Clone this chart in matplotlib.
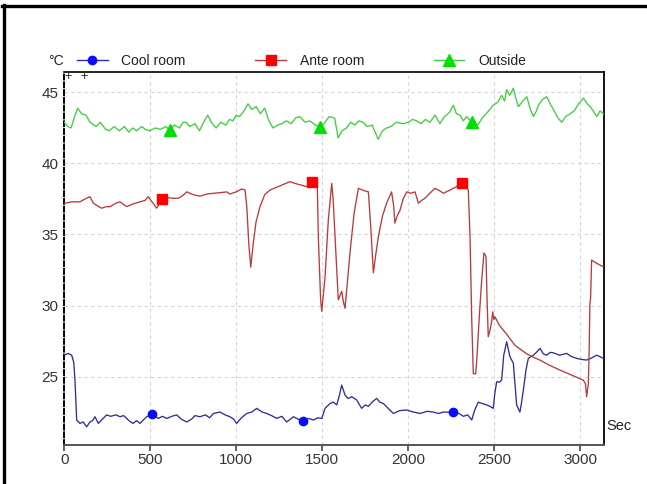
import numpy as np
import matplotlib
matplotlib.use("Agg")
import matplotlib.pyplot as plt
from matplotlib.lines import Line2D

# ---------------- data ----------------
cool_x = [0, 23, 43, 55, 62, 68, 72, 91, 110, 130, 149, 165, 178, 198, 222, 246, 270, 300, 324, 345,
          363, 380, 401, 420, 440, 460, 479, 511, 530, 547, 570, 596, 625, 654, 680, 712, 740, 760, 789, 820,
          845, 867, 906, 935, 963, 985, 1002, 1030, 1061, 1090, 1119, 1150, 1177, 1205, 1235, 1265, 1293, 1315, 1332, 1360,
          1386, 1420, 1448, 1475, 1497, 1516, 1545, 1564, 1584, 1600, 1613, 1632, 1650, 1671, 1700, 1729, 1750, 1768, 1790, 1816,
          1835, 1855, 1880, 1913, 1950, 1991, 2030, 2068, 2110, 2146, 2175, 2204, 2260, 2295, 2320, 2345, 2369, 2385, 2407, 2430,
          2456, 2475, 2494, 2503, 2514, 2530, 2543, 2555, 2572, 2580, 2591, 2611, 2620, 2630, 2649, 2659, 2669, 2685, 2698, 2727,
          2745, 2766, 2785, 2805, 2825, 2843, 2880, 2921, 2950, 2979, 3010, 3037, 3065, 3095, 3115, 3134]
cool_y = [26.5, 26.63, 26.5, 26.0, 24.75, 23.0, 21.94, 21.7, 21.8, 21.46, 21.8, 21.9, 22.17, 21.7, 22.0, 22.3, 22.2, 22.3, 22.17, 22.25,
          22.05, 21.85, 21.7, 21.9, 21.7, 21.95, 22.17, 22.36, 22.2, 22.05, 22.2, 22.05, 22.2, 22.3, 22.0, 21.8, 22.0, 22.25, 22.17, 22.3,
          22.1, 22.4, 22.5, 22.3, 22.17, 22.0, 21.7, 22.1, 22.4, 22.5, 22.76, 22.5, 22.4, 22.25, 22.05, 22.2, 21.8, 22.0, 22.17, 22.0,
          21.86, 22.05, 21.94, 22.1, 22.05, 22.76, 23.1, 23.2, 23.0, 23.7, 24.4, 23.7, 23.45, 23.58, 23.35, 22.76, 23.0, 22.9, 23.2, 23.46,
          23.2, 23.1, 22.8, 22.4, 22.6, 22.64, 22.5, 22.4, 22.55, 22.5, 22.4, 22.5, 22.48, 22.4, 22.2, 22.3, 21.94, 22.6, 23.2, 23.1,
          23.0, 22.9, 22.76, 23.8, 24.63, 24.6, 24.75, 26.5, 27.45, 27.0, 26.4, 25.93, 24.5, 23.0, 22.5, 23.2, 24.05, 25.5, 26.28, 26.5,
          26.7, 26.98, 26.6, 26.5, 26.7, 26.67, 26.5, 26.63, 26.4, 26.28, 26.2, 26.16, 26.3, 26.5, 26.4, 26.28]

ante_x = [0, 45, 91, 120, 149, 169, 195, 217, 240, 266, 300, 324, 345, 363, 400, 440, 470, 488, 510, 537,
          569, 600, 630, 663, 690, 712, 750, 789, 830, 867, 910, 944, 963, 1000, 1031, 1051, 1061, 1072, 1084, 1099,
          1115, 1138, 1165, 1196, 1250, 1312, 1340, 1370, 1409, 1442, 1471, 1477, 1490, 1497, 1505, 1516, 1535, 1555, 1563, 1574,
          1593, 1613, 1622, 1632, 1645, 1661, 1685, 1710, 1740, 1768, 1782, 1797, 1810, 1826, 1850, 1874, 1903, 1915, 1922, 1935,
          1952, 1970, 1991, 2015, 2039, 2059, 2078, 2097, 2125, 2155, 2180, 2204, 2243, 2281, 2312, 2340, 2349, 2359, 2369, 2378,
          2392, 2400, 2407, 2417, 2427, 2440, 2452, 2458, 2465, 2475, 2484, 2491, 2498, 2504, 2530, 2571, 2620, 2688, 2720, 2765,
          2820, 2881, 2950, 3017, 3030, 3037, 3047, 3052, 3056, 3060, 3066, 3095, 3134]
ante_y = [37.2, 37.3, 37.3, 37.5, 37.66, 37.2, 37.0, 36.85, 36.95, 36.96, 37.2, 37.3, 37.1, 36.96, 37.15, 37.3, 37.4, 37.66, 37.3, 36.85,
          37.5, 37.6, 37.55, 37.55, 37.75, 38.0, 37.8, 37.7, 37.85, 37.9, 37.95, 38.0, 37.85, 38.0, 38.2, 38.13, 36.96, 34.5, 32.7, 34.4,
          35.9, 36.96, 37.8, 38.13, 38.4, 38.72, 38.6, 38.5, 38.37, 38.68, 38.5, 34.85, 30.5, 29.6, 30.6, 32.0, 36.0, 38.6, 37.5, 34.85,
          30.4, 31.0, 30.3, 29.8, 31.5, 33.7, 36.5, 38.25, 38.1, 38.0, 35.5, 32.3, 33.5, 34.85, 36.3, 37.2, 38.0, 37.0, 35.8, 36.3,
          36.7, 37.5, 38.0, 37.9, 38.0, 37.2, 37.4, 37.55, 37.9, 38.25, 38.1, 37.9, 38.13, 38.37, 38.6, 38.3, 38.13, 34.85, 29.0, 25.2,
          25.2, 26.5, 28.0, 30.0, 31.8, 33.7, 33.45, 30.5, 27.8, 28.27, 28.8, 29.55, 29.0, 29.2, 28.6, 28.0, 27.2, 26.6, 26.4, 26.16,
          25.8, 25.46, 25.1, 24.75, 24.5, 23.58, 24.5, 27.0, 30.15, 30.5, 33.2, 32.97, 32.73]

out_x = [0, 20, 39, 60, 78, 100, 126, 150, 185, 210, 240, 262, 290, 320, 350, 375, 397, 420, 450, 470,
         495, 530, 560, 590, 612, 640, 670, 690, 709, 730, 760, 786, 810, 834, 860, 883, 910, 940, 960, 980,
         1000, 1019, 1045, 1068, 1090, 1116, 1140, 1165, 1190, 1213, 1240, 1265, 1291, 1320, 1345, 1369, 1400, 1427, 1460, 1487,
         1510, 1540, 1572, 1592, 1615, 1641, 1665, 1690, 1712, 1738, 1760, 1790, 1825, 1850, 1874, 1900, 1930, 1971, 2000, 2025,
         2048, 2075, 2100, 2126, 2155, 2184, 2210, 2240, 2262, 2280, 2300, 2320, 2340, 2369, 2398, 2430, 2460, 2494, 2520, 2543,
         2560, 2572, 2590, 2611, 2625, 2640, 2660, 2689, 2710, 2728, 2745, 2757, 2780, 2805, 2825, 2844, 2870, 2893, 2915, 2941,
         2965, 2990, 3019, 3040, 3058, 3080, 3097, 3115, 3135]
out_y = [42.9, 42.6, 42.5, 43.3, 43.9, 43.5, 43.4, 42.9, 42.6, 42.9, 42.4, 42.3, 42.6, 42.3, 42.6, 42.2, 42.5, 42.3, 42.6, 42.4,
         42.3, 42.5, 42.4, 42.6, 42.35, 42.7, 42.5, 42.9, 42.9, 42.6, 42.8, 42.3, 42.9, 43.4, 42.8, 42.5, 42.9, 42.7, 43.1, 43.0,
         43.4, 43.3, 43.7, 44.2, 43.8, 44.0, 43.5, 43.9, 43.0, 42.5, 42.7, 42.8, 43.0, 42.8, 43.2, 43.3, 42.9, 43.0, 42.7, 42.6,
         42.8, 43.3, 43.2, 41.8, 42.3, 42.5, 42.9, 42.7, 43.0, 42.9, 42.6, 42.7, 41.7, 42.3, 42.5, 42.6, 42.9, 42.8, 42.9, 43.1,
         43.0, 42.8, 43.1, 42.9, 43.4, 42.8, 43.3, 43.6, 44.1, 43.5, 43.4, 43.0, 43.3, 42.9, 42.6, 43.2, 43.6, 44.1, 44.3, 44.8,
         44.4, 45.2, 44.8, 45.3, 44.6, 44.0, 44.3, 44.7, 43.8, 43.3, 43.7, 44.1, 44.5, 44.7, 44.2, 43.8, 43.2, 42.9, 43.3, 43.5,
         43.7, 44.2, 44.6, 44.2, 44.0, 43.6, 43.3, 43.7, 43.5]

# sample times that carry a marker
cool_marks = [511, 1386, 2260]
ante_marks = [569, 1442, 2312]
out_marks = [612, 1487, 2369]

series_names = ["Cool room", "Ante room", "Outside"]
x_ticks = [0, 500, 1000, 1500, 2000, 2500, 3000]
y_ticks = [25, 30, 35, 40, 45]

# ---------------- figure ----------------
W, H = 647, 484
fig = plt.figure(figsize=(W / 100, H / 100), dpi=100)
fig.patch.set_facecolor("white")

def fx(px):
    return px / W

def fy(py):
    return 1 - py / H

ax = fig.add_axes([fx(64.3), fy(445), fx(604) - fx(64.3), fy(71.7) - fy(445)])
ax.set_xlim(0, 3138)
ax.set_ylim(20.18, 46.46)

FONT = "Liberation Sans"

def idx(xs, marks):
    xs = np.asarray(xs)
    return [int(np.argmin(np.abs(xs - m))) for m in marks]

specs = [
    (cool_x, cool_y, cool_marks, "#2e2e96", "#0a0aff", "o", 6),
    (ante_x, ante_y, ante_marks, "#b83a3a", "#ff0000", "s", 7),
    (out_x, out_y, out_marks, "#3fcf3f", "#00e000", "^", 8),
]
handles = []
for (xs, ys, marks, lc, mc, mk, ms), name in zip(specs, series_names):
    ax.plot(xs, ys, color=lc, lw=0.95, zorder=3)
    ax.plot(xs, ys, linestyle="none", marker=mk, markersize=ms, color=mc,
            markeredgecolor=mc, markevery=idx(xs, marks), zorder=4)
    handles.append(Line2D([0], [0], color=lc, lw=1.0, marker=mk, markersize=ms,
                          markerfacecolor=mc, markeredgecolor=mc, label=name))

ax.set_xticks(x_ticks)
ax.set_yticks(y_ticks)
ax.set_xticklabels([str(t) for t in x_ticks], fontfamily=FONT, fontsize=11, color="#333333")
ax.set_yticklabels([str(t) for t in y_ticks], fontfamily=FONT, fontsize=11, color="#333333")
ax.tick_params(axis="x", direction="out", length=4, width=1.2, color="#444444", pad=2)
ax.tick_params(axis="y", length=0, pad=4)

ax.grid(True, color="#d4d4d4", linestyle=(0, (3, 3)), linewidth=0.8, zorder=0)
ax.set_axisbelow(True)

ax.spines["left"].set_linestyle((0, (2.5, 1.5)))
ax.spines["left"].set_linewidth(1.4)
ax.spines["left"].set_color("black")
ax.spines["bottom"].set_color("#555555")
ax.spines["bottom"].set_linewidth(1.4)
ax.spines["top"].set_color("black")
ax.spines["top"].set_linewidth(1.2)
ax.spines["right"].set_color("black")
ax.spines["right"].set_linewidth(1.3)

# legend above the plot
leg = fig.legend(handles=handles, ncol=3, loc="center left",
                 bbox_to_anchor=(fx(77), fy(61)), frameon=False,
                 prop={"family": FONT, "size": 10}, handlelength=2.2,
                 handletextpad=1.0, columnspacing=5.0, borderaxespad=0,
                 borderpad=0, numpoints=1)
for t in leg.get_texts():
    t.set_color("#222222")

fig.text(fx(64), fy(61), "°C", ha="right", va="center", fontfamily=FONT, fontsize=10, color="#222222")
fig.text(fx(606), fy(426), "Sec", ha="left", va="center", fontfamily=FONT, fontsize=10.5, color="#222222")
fig.text(fx(68), fy(77), "+", ha="center", va="center", fontfamily=FONT, fontsize=9, color="#222222")
fig.text(fx(84), fy(77), "+", ha="center", va="center", fontfamily=FONT, fontsize=9, color="#222222")

# image frame (top and left borders)
fig.add_artist(Line2D([fx(2), fx(646)], [fy(5.5), fy(5.5)], color="black", lw=2.4))
fig.add_artist(Line2D([fx(3.5), fx(3.5)], [fy(5), fy(484)], color="black", lw=2.4))

fig.savefig("out.png", dpi=100, facecolor="white")
